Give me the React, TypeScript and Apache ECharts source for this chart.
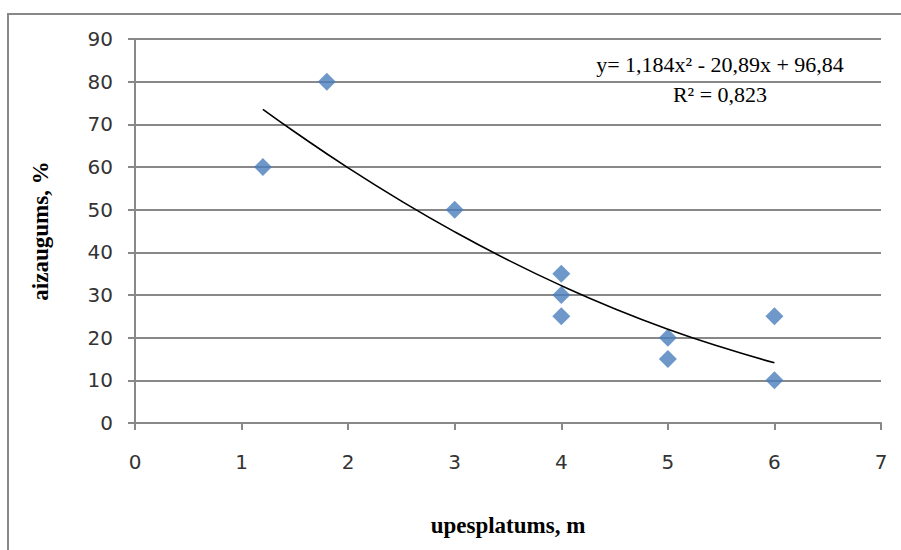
import React, { useEffect, useRef } from "react";
import * as echarts from "echarts";

const xValues = [1.2, 1.8, 3, 4, 4, 4, 5, 5, 6, 6];
const yValues = [60, 80, 50, 35, 30, 25, 20, 15, 25, 10];

const trendX = [1.2, 1.5, 2, 2.5, 3, 3.5, 4, 4.5, 5, 5.5, 6];
const trendY = [73.5, 68.2, 59.8, 52.0, 44.8, 38.2, 32.2, 26.8, 22.0, 17.8, 14.1];

const xTitle = "upesplatums, m";
const yTitle = "aizaugums, %";
const equationText = "y= 1,184x² - 20,89x + 96,84";
const r2Text = "R² = 0,823";

export default function App() {
  const ref = useRef<HTMLDivElement>(null);
  useEffect(() => {
    if (!ref.current) return;
    const chart = echarts.init(ref.current, undefined, { renderer: "svg" });
    const scatterData = xValues.map((x, i) => [x, yValues[i]]);
    const trendData = trendX.map((x, i) => [x, trendY[i]]);
    chart.setOption({
      animation: false,
      backgroundColor: "#ffffff",
      grid: { left: 135, top: 39, width: 746, height: 384 },
      xAxis: {
        type: "value",
        min: 0,
        max: 7,
        interval: 1,
        name: xTitle,
        nameLocation: "middle",
        nameGap: 91,
        nameTextStyle: {
          fontFamily: "Liberation Serif",
          fontWeight: "bold",
          fontSize: 23,
          color: "#000",
        },
        axisLine: { show: true, lineStyle: { color: "#888", width: 2 } },
        axisTick: { show: true, length: 7, inside: false, lineStyle: { color: "#888", width: 2 } },
        axisLabel: {
          margin: 29,
          fontFamily: "DejaVu Sans",
          fontSize: 20,
          color: "#333",
        },
        splitLine: { show: false },
      },
      yAxis: {
        type: "value",
        min: 0,
        max: 90,
        interval: 10,
        name: yTitle,
        nameLocation: "middle",
        nameGap: 83,
        nameRotate: 90,
        nameTextStyle: {
          fontFamily: "Liberation Serif",
          fontWeight: "bold",
          fontSize: 23,
          color: "#000",
        },
        axisLine: { show: true, lineStyle: { color: "#888", width: 2 } },
        axisTick: { show: true, length: 7, inside: false, lineStyle: { color: "#888", width: 2 } },
        axisLabel: {
          margin: 22,
          fontFamily: "DejaVu Sans",
          fontSize: 20,
          color: "#333",
        },
        splitLine: { show: true, lineStyle: { color: "#888", width: 2 } },
      },
      graphic: [
        {
          type: "rect",
          shape: { x: 8, y: 14, width: 1000, height: 1000 },
          style: { fill: "none", stroke: "#888", lineWidth: 2 },
          silent: true,
        },
        {
          type: "text",
          x: 720,
          y: 64,
          style: {
            text: equationText,
            fontFamily: "Liberation Serif",
            fontSize: 22,
            fill: "#000",
            textAlign: "center",
            textVerticalAlign: "middle",
          },
        },
        {
          type: "text",
          x: 720,
          y: 94,
          style: {
            text: r2Text,
            fontFamily: "Liberation Serif",
            fontSize: 22,
            fill: "#000",
            textAlign: "center",
            textVerticalAlign: "middle",
          },
        },
      ],
      series: [
        {
          type: "scatter",
          data: scatterData,
          symbol: "diamond",
          symbolSize: [18, 18],
          itemStyle: { color: "#4a7ebb" },
          z: 2,
        },
        {
          type: "line",
          data: trendData,
          smooth: true,
          showSymbol: false,
          symbol: "none",
          lineStyle: { color: "#000", width: 1.6 },
          z: 3,
        },
      ],
    });
    return () => chart.dispose();
  }, []);
  return (
    <div
      ref={ref}
      style={{ position: "fixed", left: 0, top: 0, width: 901, height: 550 }}
    />
  );
}
